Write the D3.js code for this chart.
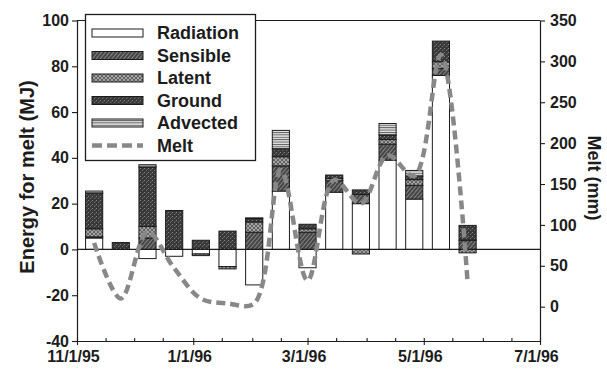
<!DOCTYPE html>
<html>
<head>
<meta charset="utf-8">
<script src="https://cdn.jsdelivr.net/npm/d3@7"></script>
<style>
  html, body { margin: 0; padding: 0; background: #fff; }
  svg { display: block; font-family: "Liberation Sans", Arial, sans-serif; font-weight: bold; }
</style>
</head>
<body>
<svg id="chart" width="607" height="373"></svg>
<script>
// Two-week periods (centre dates) of the energy balance
const periods = ["1995-11-10", "1995-11-24", "1995-12-08", "1995-12-22", "1996-01-05",
                 "1996-01-19", "1996-02-02", "1996-02-16", "1996-03-01", "1996-03-15",
                 "1996-03-29", "1996-04-12", "1996-04-26", "1996-05-10", "1996-05-24"];

// Energy for melt components (MJ)
const radiation = [5, 0, -4, -3, -2, -7.5, -15.5, 25.5, -8, 25, 20, 39, 22, 76, 0];
const sensible  = [0.5, 0, 5, 0, 0, 0, 7.5, 11, 7.5, 5, 4, 7, 6, 3, 4];
const latent    = [3.5, 0, 5, 0, -0.7, -1, 4.5, 4, 1.5, 1, -2, 2, 2.5, 3, -1.5];
const ground    = [15.5, 3, 26, 17, 4, 8, 1.5, 3.5, 2, 1.5, 2, 2, 1.5, 9, 6.5];
const advected  = [1, 0, 1, 0, 0, 0, 0.3, 8, 0, 0, 0, 5, 2.5, 0, 0];

// Melt per period (mm)
const melt = [78, 10, 91, 47, 10, 4, 4, 167, 32, 155, 126, 185, 160, 308, 30];

// Axis ticks
const leftTicks = [-40, -20, 0, 20, 40, 60, 80, 100];
const rightTicks = [0, 50, 100, 150, 200, 250, 300, 350];
const dateTicks = ["1995-11-01", "1996-01-01", "1996-03-01", "1996-05-01", "1996-07-01"];

const seriesNames = ["Radiation", "Sensible", "Latent", "Ground", "Advected"];
const seriesKeys = ["radiation", "sensible", "latent", "ground", "advected"];

const parse = d3.timeParse("%Y-%m-%d");
const rows = periods.map((p, i) => ({
  date: parse(p),
  radiation: radiation[i], sensible: sensible[i], latent: latent[i],
  ground: ground[i], advected: advected[i], melt: melt[i]
}));

const svg = d3.select("#chart");
const ink = "#1c1c1c";

// ---------- fill patterns ----------
const defs = svg.append("defs");

function pattern(id, w, h, draw, transform) {
  const p = defs.append("pattern").attr("id", id)
    .attr("patternUnits", "userSpaceOnUse").attr("width", w).attr("height", h);
  if (transform) p.attr("patternTransform", transform);
  draw(p);
}
pattern("p-radiation", 4, 4, p => {
  p.append("rect").attr("width", 4).attr("height", 4).attr("fill", "#fff");
});
pattern("p-sensible", 3, 3, p => {
  p.append("rect").attr("width", 3).attr("height", 3).attr("fill", "#444");
  p.append("line").attr("x1", 0).attr("y1", 0).attr("x2", 0).attr("y2", 3)
    .attr("stroke", "#bdbdbd").attr("stroke-width", 1.1);
}, "rotate(40)");
pattern("p-latent", 4, 4, p => {
  p.append("rect").attr("width", 4).attr("height", 4).attr("fill", "#636363");
  p.append("path").attr("d", "M0,4 L4,0 M0,0 L4,4").attr("stroke", "#b5b5b5").attr("stroke-width", 0.8);
});
pattern("p-ground", 4, 4, p => {
  p.append("rect").attr("width", 4).attr("height", 4).attr("fill", "#383838");
  p.append("rect").attr("x", 0).attr("y", 0).attr("width", 1).attr("height", 1).attr("fill", "#888");
  p.append("rect").attr("x", 2).attr("y", 2).attr("width", 1).attr("height", 1).attr("fill", "#777");
  p.append("rect").attr("x", 3).attr("y", 1).attr("width", 1).attr("height", 1).attr("fill", "#5c5c5c");
});
pattern("p-advected", 4, 2.4, p => {
  p.append("rect").attr("width", 4).attr("height", 2.4).attr("fill", "#e2e2e2");
  p.append("line").attr("x1", 0).attr("y1", 0.5).attr("x2", 4).attr("y2", 0.5)
    .attr("stroke", "#555").attr("stroke-width", 0.9);
});

// ---------- scales ----------
const x = d3.scaleTime()
  .domain([parse("1995-11-01"), parse("1996-07-01")])
  .range([77, 540]);
const yL = d3.scaleLinear().domain([-40, 100]).range([341, 20.5]);
const yR = d3.scaleLinear().domain([-42, 350]).range([341, 20.5]);

const halfBar = d => [d3.timeHour.offset(d, -108), d3.timeHour.offset(d, 108)];

// ---------- stacked bars ----------
const stack = d3.stack().keys(seriesKeys).offset(d3.stackOffsetDiverging);
const layers = stack(rows);

const barG = svg.append("g");
layers.forEach(layer => {
  barG.append("g")
    .selectAll("rect")
    .data(layer.filter(s => s[1] !== s[0]))
    .join("rect")
    .attr("x", s => x(halfBar(s.data.date)[0]))
    .attr("width", s => x(halfBar(s.data.date)[1]) - x(halfBar(s.data.date)[0]))
    .attr("y", s => yL(Math.max(s[0], s[1])))
    .attr("height", s => Math.abs(yL(s[0]) - yL(s[1])))
    .attr("fill", `url(#p-${layer.key})`)
    .attr("stroke", ink)
    .attr("stroke-width", 1);
});

// ---------- frame and zero line ----------
svg.append("line")
  .attr("x1", x.range()[0]).attr("x2", x.range()[1])
  .attr("y1", yL(100)).attr("y2", yL(100))
  .attr("stroke", ink).attr("stroke-width", 1.2);
svg.append("line")
  .attr("x1", x.range()[0]).attr("x2", x.range()[1])
  .attr("y1", yL(0)).attr("y2", yL(0))
  .attr("stroke", ink).attr("stroke-width", 1.2);

// ---------- melt line ----------
const meltLine = d3.line()
  .x(d => x(d.date))
  .y(d => yR(d.melt))
  .curve(d3.curveCatmullRom.alpha(0.5));
svg.append("path")
  .datum(rows)
  .attr("d", meltLine)
  .attr("fill", "none")
  .attr("stroke", "#888")
  .attr("stroke-width", 4.5)
  .attr("stroke-dasharray", "9,5");

// ---------- axes ----------
function styleAxis(g) {
  g.select(".domain").attr("stroke", ink).attr("stroke-width", 1.2);
  g.selectAll(".tick line").attr("stroke", ink).attr("stroke-width", 1.1);
  g.selectAll("text").attr("fill", ink)
    .style("font-family", '"Liberation Sans", Arial, sans-serif')
    .style("font-weight", "bold").style("font-size", "16px");
}

svg.append("g")
  .attr("transform", `translate(${x.range()[0]},0)`)
  .call(d3.axisLeft(yL).tickValues(leftTicks).tickSize(5).tickSizeOuter(0).tickPadding(3)
    .tickFormat(d => String(d)))
  .call(styleAxis);

svg.append("g")
  .attr("transform", `translate(${x.range()[1]},0)`)
  .call(d3.axisRight(yR).tickValues(rightTicks).tickSize(5).tickSizeOuter(0).tickPadding(5)
    .tickFormat(d => String(d)))
  .call(styleAxis);

// minor date ticks on the 1st and 16th of each month
const minorDates = [];
d3.timeMonth.range(parse("1995-11-01"), parse("1996-07-02")).forEach(m => {
  minorDates.push(m);
  const mid = new Date(m); mid.setDate(16);
  if (mid < parse("1996-07-01")) minorDates.push(mid);
});
svg.append("g")
  .attr("transform", `translate(0,${yL(-40)})`)
  .call(d3.axisBottom(x).tickValues(minorDates).tickSize(-3).tickSizeOuter(0).tickFormat(""))
  .call(styleAxis);

const fmt = d => `${d.getMonth() + 1}/${d.getDate()}/${String(d.getFullYear()).slice(2)}`;
const xAxisG = svg.append("g")
  .attr("transform", `translate(0,${yL(-40)})`)
  .call(d3.axisBottom(x).tickValues(dateTicks.map(parse)).tickSize(4).tickSizeOuter(0)
    .tickPadding(6).tickFormat(fmt))
  .call(styleAxis);
xAxisG.selectAll("text").attr("dx", -4);

// ---------- axis titles ----------
svg.append("text")
  .attr("transform", "translate(27,177) rotate(-90)")
  .attr("text-anchor", "middle").attr("dominant-baseline", "central")
  .attr("fill", ink).style("font-size", "20px")
  .text("Energy for melt (MJ)");
svg.append("text")
  .attr("transform", "translate(594,178) rotate(90)")
  .attr("text-anchor", "middle").attr("dominant-baseline", "central")
  .attr("fill", ink).style("font-size", "18px")
  .text("Melt (mm)");

// ---------- legend ----------
const legend = svg.append("g");
legend.append("rect")
  .attr("x", 85.5).attr("y", 14.5).attr("width", 170).attr("height", 146)
  .attr("fill", "#fff").attr("stroke", ink).attr("stroke-width", 1.3);

const rowY = i => 33 + i * 22.5;
seriesKeys.forEach((k, i) => {
  legend.append("rect")
    .attr("x", 92).attr("y", rowY(i) - 4).attr("width", 51).attr("height", 8)
    .attr("fill", `url(#p-${k})`).attr("stroke", ink).attr("stroke-width", 1);
  legend.append("text")
    .attr("x", 157).attr("y", rowY(i)).attr("dominant-baseline", "central")
    .attr("fill", ink).style("font-size", "18px")
    .text(seriesNames[i]);
});
legend.append("line")
  .attr("x1", 92).attr("x2", 143)
  .attr("y1", rowY(5)).attr("y2", rowY(5))
  .attr("stroke", "#888").attr("stroke-width", 4.5).attr("stroke-dasharray", "10,5");
legend.append("text")
  .attr("x", 157).attr("y", rowY(5)).attr("dominant-baseline", "central")
  .attr("fill", ink).style("font-size", "18px")
  .text("Melt");
</script>
</body>
</html>
